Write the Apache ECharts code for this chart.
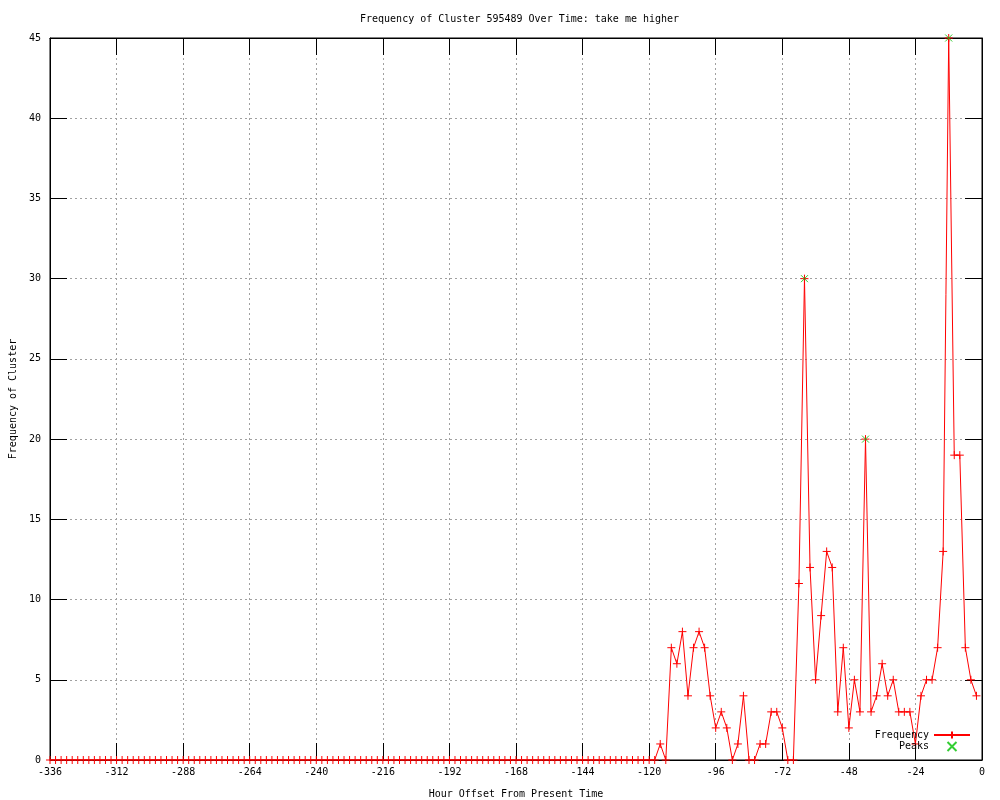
<!DOCTYPE html>
<html>
<head>
<meta charset="utf-8">
<script src="https://cdn.jsdelivr.net/npm/echarts@6/dist/echarts.min.js"></script>
<style>html,body{margin:0;padding:0;background:#fff;}#c{width:1000px;height:800px;}</style>
</head>
<body>
<div id="c"></div>
<script>
const hours = [
 -336,-334,-332,-330,-328,-326,-324,-322,-320,-318,-316,-314,-312,-310,-308,-306,-304,-302,-300,-298,
 -296,-294,-292,-290,-288,-286,-284,-282,-280,-278,-276,-274,-272,-270,-268,-266,-264,-262,-260,-258,
 -256,-254,-252,-250,-248,-246,-244,-242,-240,-238,-236,-234,-232,-230,-228,-226,-224,-222,-220,-218,
 -216,-214,-212,-210,-208,-206,-204,-202,-200,-198,-196,-194,-192,-190,-188,-186,-184,-182,-180,-178,
 -176,-174,-172,-170,-168,-166,-164,-162,-160,-158,-156,-154,-152,-150,-148,-146,-144,-142,-140,-138,
 -136,-134,-132,-130,-128,-126,-124,-122,-120,-118,-116,-114,-112,-110,-108,-106,-104,-102,-100,-98,
 -96,-94,-92,-90,-88,-86,-84,-82,-80,-78,-76,-74,-72,-70,-68,-66,-64,-62,-60,-58,
 -56,-54,-52,-50,-48,-46,-44,-42,-40,-38,-36,-34,-32,-30,-28,-26,-24,-22,-20,-18,
 -16,-14,-12,-10,-8,-6,-4,-2
];
const frequency = [
 0,0,0,0,0,0,0,0,0,0,0,0,0,0,0,0,0,0,0,0,
 0,0,0,0,0,0,0,0,0,0,0,0,0,0,0,0,0,0,0,0,
 0,0,0,0,0,0,0,0,0,0,0,0,0,0,0,0,0,0,0,0,
 0,0,0,0,0,0,0,0,0,0,0,0,0,0,0,0,0,0,0,0,
 0,0,0,0,0,0,0,0,0,0,0,0,0,0,0,0,0,0,0,0,
 0,0,0,0,0,0,0,0,0,0,1,0,7,6,8,4,7,8,7,4,
 2,3,2,0,1,4,0,0,1,1,3,3,2,0,0,11,30,12,5,9,
 13,12,3,7,2,5,3,20,3,4,6,4,5,3,3,3,1,4,5,5,
 7,13,45,19,19,7,5,4
];
const peakHours = [-64, -42, -12];
const peakValues = [30, 20, 45];
const xTicks = {min: -336, max: 0, step: 24};
const yTicks = {min: 0, max: 45, step: 5};

const FONT = 'DejaVu Sans Mono';
const plusPath = 'path://M0,5L10,5M5,0L5,10';
const crossPath = 'path://M0,0L10,10M10,0L0,10';

const chart = echarts.init(document.getElementById('c'), null, {renderer: 'canvas'});
const tickCommon = {show: true, inside: true, length: 17, lineStyle: {color: '#000', width: 1}};
const option = {
  animation: false,
  backgroundColor: '#fff',
  title: {
    text: 'Frequency of Cluster 595489 Over Time: take me higher',
    left: 355, top: 9,
    textStyle: {fontFamily: FONT, fontSize: 10, fontWeight: 'normal', color: '#000'}
  },
  grid: {left: 50, right: 18, top: 38, bottom: 40, containLabel: false, outerBoundsMode: 'none',
    show: true, borderColor: '#000', borderWidth: 1, backgroundColor: 'transparent'},
  legend: {
    orient: 'vertical', right: 29, bottom: 48, align: 'right', padding: 0,
    itemWidth: 36, itemHeight: 9, itemGap: 1,
    textStyle: {fontFamily: FONT, fontSize: 10, color: '#000'},
    data: ['Frequency', 'Peaks']
  },
  xAxis: [{
    type: 'value', min: xTicks.min, max: xTicks.max, interval: xTicks.step,
    name: 'Hour Offset From Present Time', nameLocation: 'middle', nameGap: 29,
    nameTextStyle: {fontFamily: FONT, fontSize: 10, color: '#000'},
    axisLine: {show: true, onZero: false, lineStyle: {color: '#000', width: 1}},
    axisTick: tickCommon,
    axisLabel: {fontFamily: FONT, fontSize: 10, color: '#000', margin: 7},
    splitLine: {show: true, lineStyle: {color: '#a0a0a0', type: [2, 3], width: 1}}
  }, {
    type: 'value', position: 'top', min: xTicks.min, max: xTicks.max, interval: xTicks.step,
    axisLine: {show: true, onZero: false, lineStyle: {color: '#000'}},
    axisTick: tickCommon, axisLabel: {show: false}, splitLine: {show: false}
  }],
  yAxis: [{
    type: 'value', min: yTicks.min, max: yTicks.max, interval: yTicks.step,
    name: 'Frequency of Cluster', nameLocation: 'middle', nameGap: 31, nameRotate: 90,
    nameTextStyle: {fontFamily: FONT, fontSize: 10, color: '#000'},
    axisLine: {show: true, onZero: false, lineStyle: {color: '#000', width: 1}},
    axisTick: tickCommon,
    axisLabel: {fontFamily: FONT, fontSize: 10, color: '#000', margin: 9},
    splitLine: {show: true, lineStyle: {color: '#a0a0a0', type: [2, 3], width: 1}}
  }, {
    type: 'value', position: 'right', min: yTicks.min, max: yTicks.max, interval: yTicks.step,
    axisLine: {show: true, onZero: false, lineStyle: {color: '#000'}},
    axisTick: tickCommon, axisLabel: {show: false}, splitLine: {show: false}
  }],
  series: [{
    name: 'Frequency', type: 'line',
    data: hours.map((h, i) => [h, frequency[i]]),
    symbol: plusPath, symbolSize: 8, showAllSymbol: true,
    lineStyle: {color: '#ff0000', width: 1},
    itemStyle: {color: '#ff0000', borderColor: '#ff0000', borderWidth: 1},
    emphasis: {disabled: true}, z: 3
  }, {
    name: 'Peaks', type: 'scatter',
    data: peakHours.map((h, i) => [h, peakValues[i]]),
    symbol: crossPath, symbolSize: 7,
    itemStyle: {color: '#00c000', borderColor: '#00c000', borderWidth: 1},
    emphasis: {disabled: true}, z: 4
  }]
};
chart.setOption(option);
</script>
</body>
</html>
